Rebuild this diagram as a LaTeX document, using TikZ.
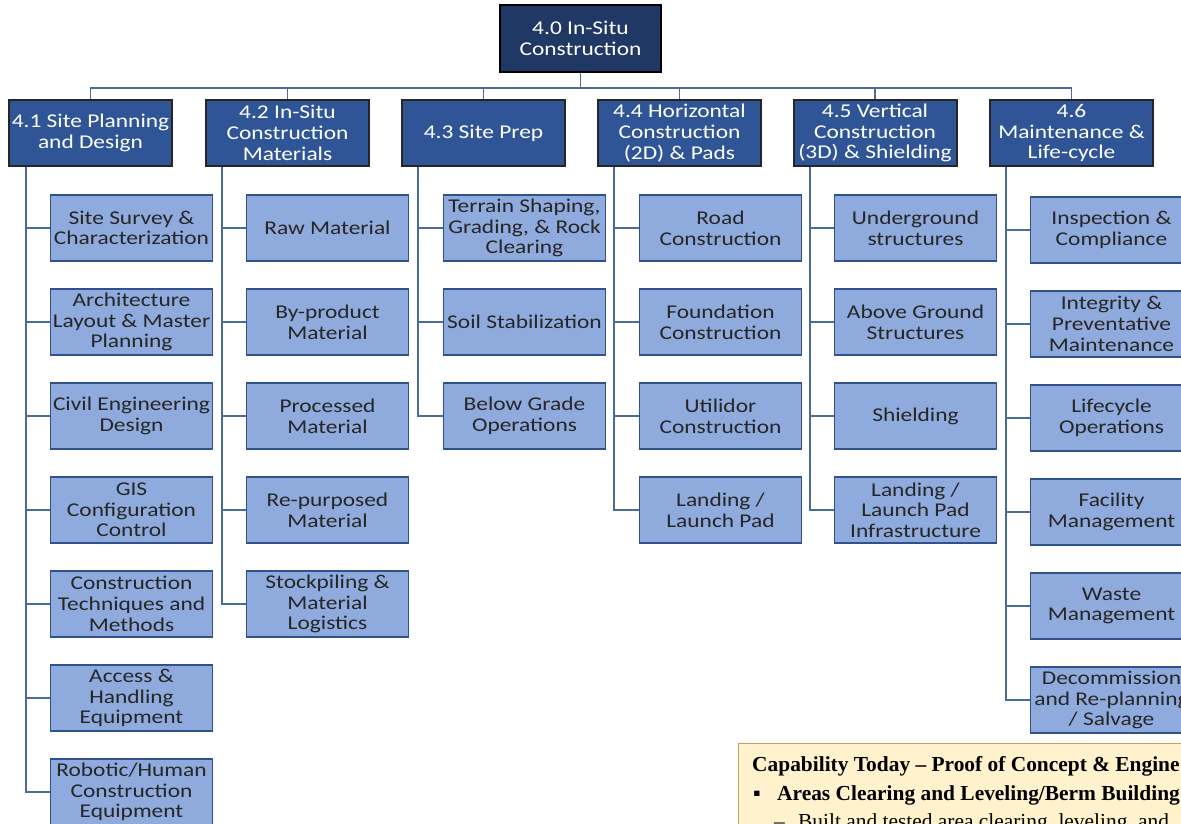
\documentclass[tikz,border=0pt]{standalone}
\usepackage{fontspec}
\setmainfont{Carlito}[FakeStretch=1.2]
\newfontfamily\capfont{Liberation Serif}
\definecolor{navy}{HTML}{203864}
\definecolor{lvlblue}{HTML}{2F5597}
\definecolor{kidfill}{HTML}{8FAADC}
\definecolor{kidedge}{HTML}{2F528F}
\definecolor{linkc}{HTML}{4A6C9B}
\definecolor{capfill}{HTML}{FFF2CC}
\definecolor{capedge}{HTML}{C2A35C}
\tikzset{
  boxfont/.style={font=\fontsize{19.5}{20.7}\selectfont},
  topbox/.style={boxfont, draw=black, fill=navy, text=white, line width=2pt,
    minimum width=161pt, minimum height=67pt, inner sep=0pt, align=center},
  lvlbox/.style={boxfont, draw=black!85, fill=lvlblue, text=white, line width=2pt,
    minimum width=163pt, minimum height=66pt, inner sep=0pt, align=center},
  kidbox/.style={boxfont, draw=kidedge, fill=kidfill, text=black!85, line width=1.5pt,
    minimum width=162pt, minimum height=66pt, inner sep=0pt, align=center},
  link/.style={draw=linkc, line width=1.8pt},
  capbox/.style={draw=capedge, fill=capfill, line width=1.2pt, inner sep=0pt},
  captext/.style={font=\capfont\bfseries\fontsize{21.4}{24}\selectfont, inner sep=0pt, anchor=base west},
  capplain/.style={font=\capfont\fontsize{21.4}{24}\selectfont, inner sep=0pt, anchor=base west}
}
\begin{document}
\begin{tikzpicture}[x=1pt,y=-1pt]
\useasboundingbox (0,0) rectangle (1181,824);
\clip (0,0) rectangle (1181,824);
\fill[white] (0,0) rectangle (1181,824);
% top
\node[topbox] (n40) at (580.5,38.5) {4.0 In-Situ\\Construction};
\coordinate (bus) at (0,88);
% level 1
\node[lvlbox] (n41) at (90.5,133) {4.1 Site Planning\\and Design};
\node[lvlbox] (n42) at (287.5,133) {4.2 In-Situ\\Construction\\Materials};
\node[lvlbox] (n43) at (483.5,133) {4.3 Site Prep};
\node[lvlbox] (n44) at (679.5,133) {4.4 Horizontal\\Construction\\(2D) \& Pads};
\node[lvlbox] (n45) at (875,133) {4.5 Vertical\\Construction\\(3D) \& Shielding};
\node[lvlbox] (n46) at (1071.5,133) {4.6\\Maintenance \&\\Life-cycle};
\foreach \n in {n41,n42,n43,n44,n45,n46}
  \draw[link] (n40.south) -- (n40.south |- bus) -| (\n.north);
% spine x positions
\coordinate (v1) at (26,0);
\coordinate (v2) at (222,0);
\coordinate (v3) at (418,0);
\coordinate (v4) at (614,0);
\coordinate (v5) at (810,0);
\coordinate (v6) at (1006,0);
% column 4.1
\node[kidbox] (c11) at (131.5,228) {Site Survey \&\\Characterization};
\node[kidbox] (c12) at (131.5,322) {Architecture\\Layout \& Master\\Planning};
\node[kidbox] (c13) at (131.5,416) {Civil Engineering\\Design};
\node[kidbox] (c14) at (131.5,510) {GIS\\Configuration\\Control};
\node[kidbox] (c15) at (131.5,604) {Construction\\Techniques and\\Methods};
\node[kidbox] (c16) at (131.5,698) {Access \&\\Handling\\Equipment};
\node[kidbox] (c17) at (131.5,792) {Robotic/Human\\Construction\\Equipment};
\foreach \c in {c11,c12,c13,c14,c15,c16,c17}
  \draw[link] (n41.south -| v1) |- (\c.west);
% column 4.2
\node[kidbox] (c21) at (327.5,228) {Raw Material};
\node[kidbox] (c22) at (327.5,322) {By-product\\Material};
\node[kidbox] (c23) at (327.5,416) {Processed\\Material};
\node[kidbox] (c24) at (327.5,510) {Re-purposed\\Material};
\node[kidbox] (c25) at (327.5,604) {Stockpiling \&\\Material\\Logistics};
\foreach \c in {c21,c22,c23,c24,c25}
  \draw[link] (n42.south -| v2) |- (\c.west);
% column 4.3
\node[kidbox] (c31) at (524.5,228) {Terrain Shaping,\\Grading, \& Rock\\Clearing};
\node[kidbox] (c32) at (524.5,322) {Soil Stabilization};
\node[kidbox] (c33) at (524.5,416) {Below Grade\\Operations};
\foreach \c in {c31,c32,c33}
  \draw[link] (n43.south -| v3) |- (\c.west);
% column 4.4
\node[kidbox] (c41) at (720.5,228) {Road\\Construction};
\node[kidbox] (c42) at (720.5,322) {Foundation\\Construction};
\node[kidbox] (c43) at (720.5,416) {Utilidor\\Construction};
\node[kidbox] (c44) at (720.5,510) {Landing /\\Launch Pad};
\foreach \c in {c41,c42,c43,c44}
  \draw[link] (n44.south -| v4) |- (\c.west);
% column 4.5
\node[kidbox] (c51) at (915.5,228) {Underground\\structures};
\node[kidbox] (c52) at (915.5,322) {Above Ground\\Structures};
\node[kidbox] (c53) at (915.5,416) {Shielding};
\node[kidbox] (c54) at (915.5,510) {Landing /\\Launch Pad\\Infrastructure};
\foreach \c in {c51,c52,c53,c54}
  \draw[link] (n45.south -| v5) |- (\c.west);
% column 4.6
\node[kidbox] (c61) at (1111.5,230) {Inspection \&\\Compliance};
\node[kidbox] (c62) at (1111.5,324) {Integrity \&\\Preventative\\Maintenance};
\node[kidbox] (c63) at (1111.5,418) {Lifecycle\\Operations};
\node[kidbox] (c64) at (1111.5,512) {Facility\\Management};
\node[kidbox] (c65) at (1111.5,606) {Waste\\Management};
\node[kidbox] (c66) at (1111.5,700) {Decommission\\and Re-planning\\/ Salvage};
\foreach \c in {c61,c62,c63,c64,c65,c66}
  \draw[link] (n46.south -| v6) |- (\c.west);
% capability box
\node[capbox, anchor=north west, minimum width=480pt, minimum height=110pt] (cap) at (738,743) {};
\node[captext] (t1) at (752,771) {Capability Today – Proof of Concept \& Engine};
\node[captext] (t2) at (753,800) {▪};
\node[captext] (t3) at (777,800) {Areas Clearing and Leveling/Berm Building};
\node[capplain] (t4) at (774,828) {–};
\node[capplain] (t5) at (798,828) {Built and tested area clearing, leveling, and};
\end{tikzpicture}
\end{document}
